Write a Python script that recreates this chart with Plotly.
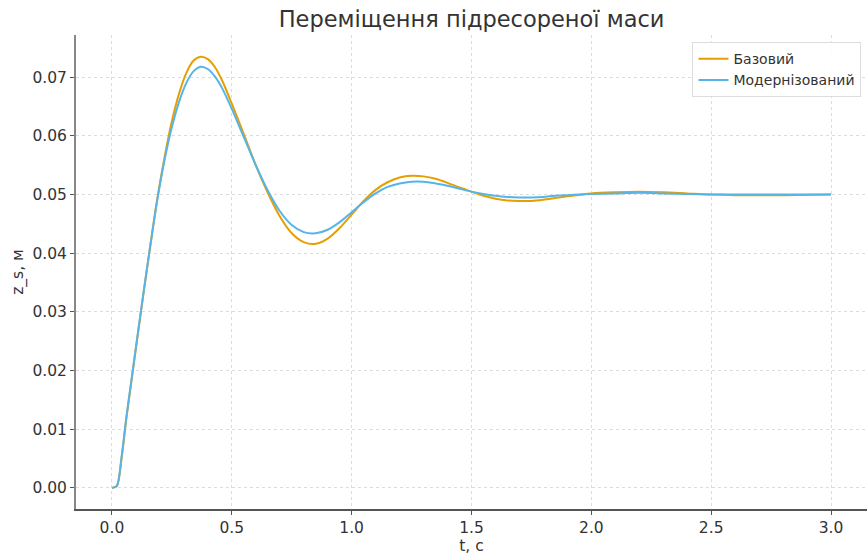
import plotly.graph_objects as go

t = [0, 0.02, 0.04, 0.06, 0.08, 0.10, 0.13, 0.16, 0.19, 0.22, 0.25, 0.28, 0.31, 0.34, 0.37,
     0.40, 0.43, 0.46, 0.50, 0.55, 0.60, 0.65, 0.70, 0.75, 0.80, 0.85, 0.90, 0.95, 1.00,
     1.05, 1.10, 1.15, 1.20, 1.25, 1.30, 1.35, 1.40, 1.45, 1.50, 1.55, 1.60, 1.65, 1.70,
     1.75, 1.80, 1.85, 1.90, 2.0, 2.1, 2.2, 2.3, 2.4, 2.5, 2.6, 2.8, 3.0]

base = [0, 0.0003, 0.005, 0.0118, 0.0178, 0.0238, 0.0327, 0.0413, 0.0495, 0.0565, 0.0625,
        0.0672, 0.0707, 0.0728, 0.0735, 0.0731, 0.0717, 0.0694, 0.0655, 0.0603, 0.0550,
        0.0503, 0.0463, 0.0434, 0.0419, 0.0416, 0.0425, 0.0443, 0.0466, 0.0489, 0.0508,
        0.0521, 0.0529, 0.0532, 0.0531, 0.0527, 0.0520, 0.0512, 0.0505, 0.0498, 0.0493,
        0.0490, 0.0489, 0.0489, 0.0491, 0.0494, 0.0497, 0.0502, 0.0504, 0.0505, 0.0504,
        0.0502, 0.0500, 0.0499, 0.0499, 0.0500]

modern = [0, 0.0003, 0.0052, 0.012, 0.018, 0.024, 0.0328, 0.0413, 0.0493, 0.056, 0.0615,
          0.0658, 0.0690, 0.0710, 0.0718, 0.0714, 0.0701, 0.0681, 0.0646, 0.0598, 0.0550,
          0.0507, 0.0472, 0.0448, 0.0436, 0.0434, 0.0440, 0.0453, 0.0470, 0.0487, 0.0502,
          0.0513, 0.0519, 0.0522, 0.0522, 0.0519, 0.0515, 0.0510, 0.0505, 0.0501, 0.0498,
          0.0496, 0.0495, 0.0495, 0.0496, 0.0498, 0.0499, 0.0501, 0.0502, 0.0503, 0.0502,
          0.0501, 0.0500, 0.0500, 0.0500, 0.0500]

names = ["Базовий", "Модернізований"]
colors = ["#E69F00", "#56B4E9"]

fig = go.Figure()
for name, ys, c in zip(names, [base, modern], colors):
    fig.add_trace(go.Scatter(x=t, y=ys, name=name, mode="lines",
                             line=dict(color=c, width=2, shape="spline", smoothing=0.8)))

font = "DejaVu Sans"
fig.update_layout(
    width=868, height=556,
    margin=dict(l=76, r=1, t=35, b=47),
    paper_bgcolor="white", plot_bgcolor="white",
    font=dict(family=font, size=15.5, color="#333333"),
    title=dict(text="Переміщення підресореної маси", x=0.5433, xanchor="center",
               y=0.966, yanchor="middle", font=dict(size=22.5, color="#333333")),
    showlegend=True,
    legend=dict(x=0.993, y=0.985, xanchor="right", yanchor="top", itemwidth=30,
                bgcolor="rgba(255,255,255,0.9)", bordercolor="#dddddd", borderwidth=1,
                font=dict(size=14, color="#333333")),
)
fig.update_xaxes(range=[-0.15, 3.15], dtick=0.5, tick0=0, tickformat=".1f",
                 showline=True, linecolor="#555555", linewidth=1.5,
                 ticks="outside", ticklen=4, tickcolor="#555555",
                 showgrid=True, gridcolor="#dcdcdc", griddash="dot", gridwidth=1,
                 zeroline=False,
                 title=dict(text="t, с", standoff=1, font=dict(size=15.5)))
fig.update_yaxes(range=[-0.0036, 0.0772], dtick=0.01, tick0=0, tickformat=".2f",
                 showline=True, linecolor="#888888", linewidth=2,
                 ticks="outside", ticklen=4, tickcolor="#555555",
                 showgrid=True, gridcolor="#dcdcdc", griddash="dot", gridwidth=1,
                 zeroline=False,
                 title=dict(text="z_s, м", standoff=5, font=dict(size=15.5)))

fig.write_html("out.html")
